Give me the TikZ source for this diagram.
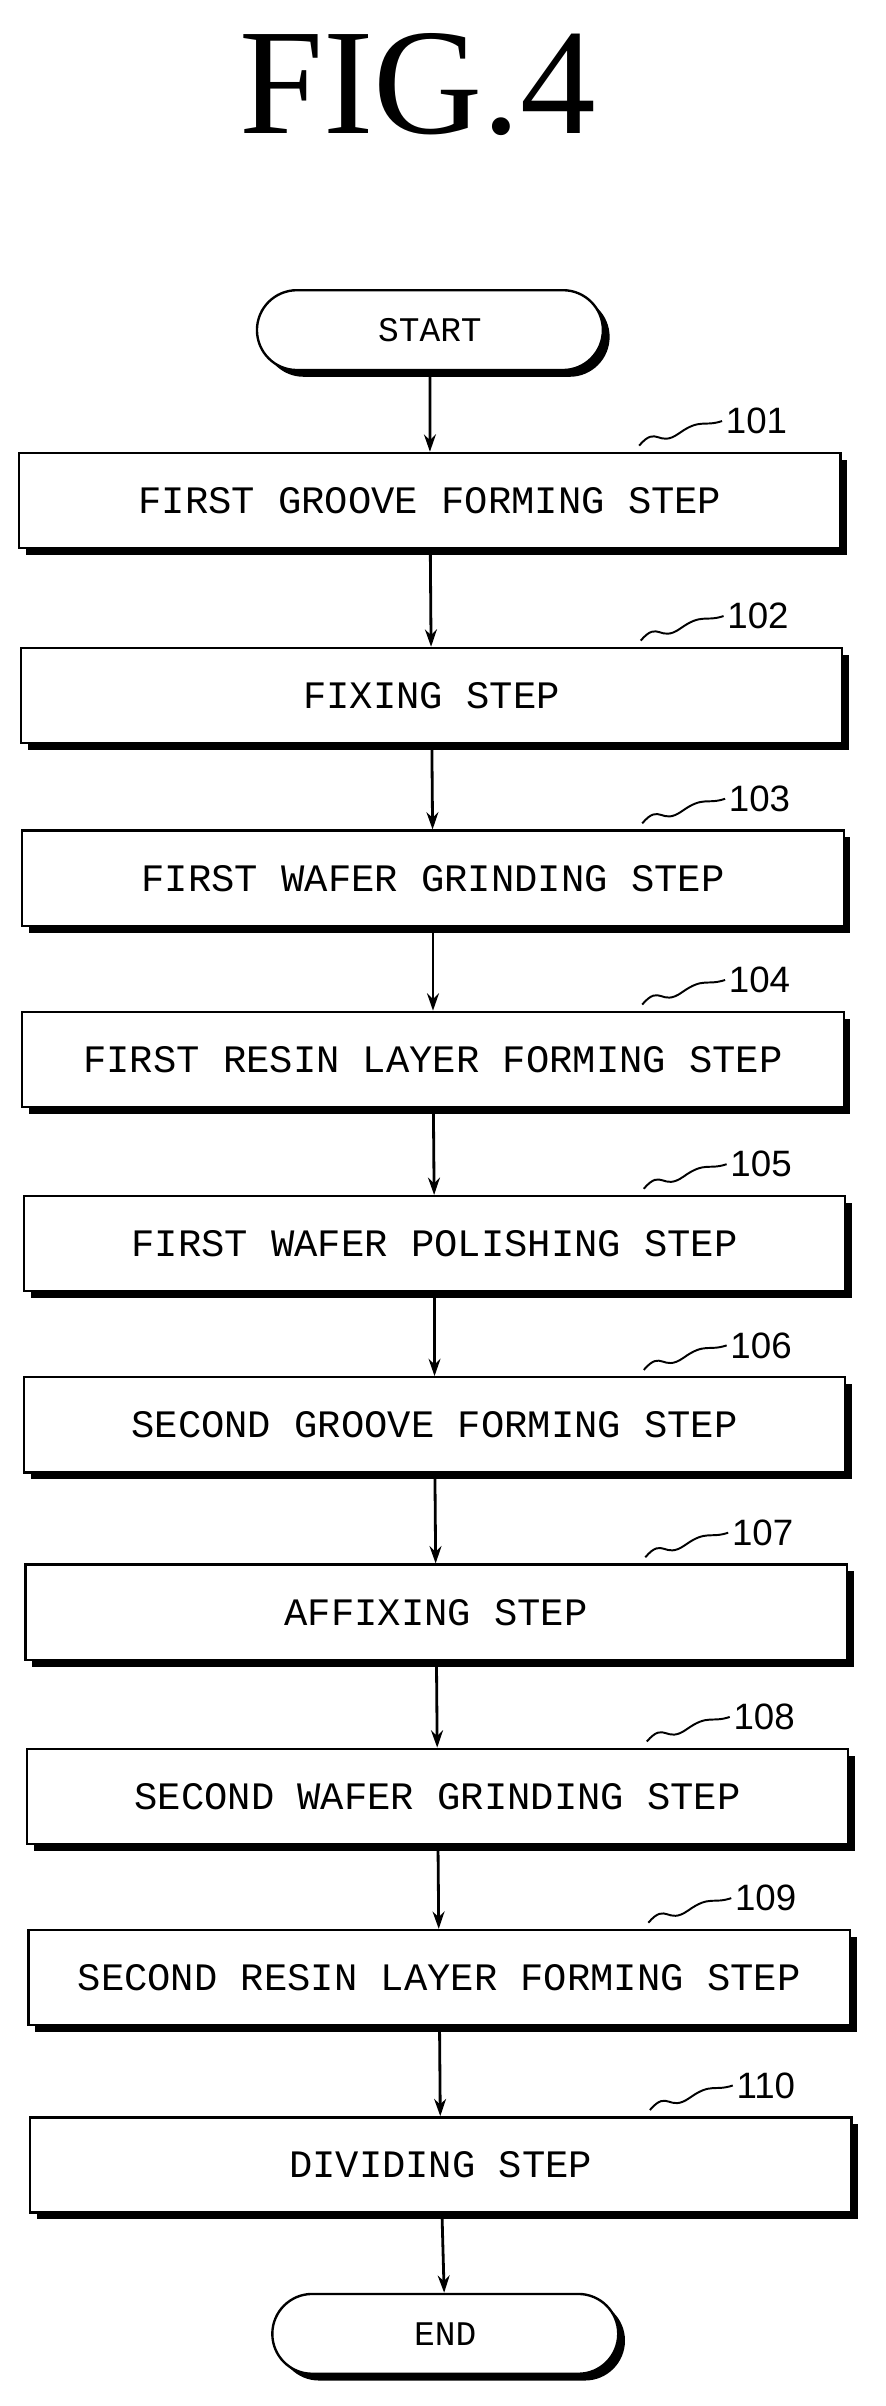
\documentclass[tikz,border=0pt]{standalone}
\usepackage{fontspec}
\setmainfont{Liberation Serif}
\newfontfamily\stepfont{Liberation Mono}
\newfontfamily\tagfont{Liberation Sans}
\usetikzlibrary{positioning,calc,shapes,shadows,arrows.meta}

\begin{document}
\begin{tikzpicture}[
x=0.05cm, y=-0.05cm,
box shadow/.style={drop shadow={shadow xshift=0.22cm, shadow yshift=-0.22cm, fill=black, opacity=1}},
process/.style={rectangle, draw, line width=2.2pt, fill=white, box shadow, minimum width=26.75cm, minimum height=3.1cm, font=\stepfont\fontsize{36}{40}\selectfont},
terminal/.style={rounded rectangle, draw, line width=2.2pt, fill=white, box shadow, minimum width=11.5cm, minimum height=2.6cm, font=\stepfont\fontsize{32}{36}\selectfont},
flow/.style={-{Stealth[length=16pt,width=11pt]}, line width=2.6pt},
tag/.style={font=\tagfont\fontsize{34}{38}\selectfont}
]
	\useasboundingbox (0,0) rectangle (577,1567);
	\node at (272,55) (title) {\fontsize{140}{140}\selectfont FIG.4};

	\node at (280,215) [terminal] (start) {START};
	\node at (280,326) [process] (s1) {FIRST GROOVE FORMING STEP};
	\node at (281,453) [process] (s2) {FIXING STEP};
	\node at (282,572) [process] (s3) {FIRST WAFER GRINDING STEP};
	\node at (282,690) [process] (s4) {FIRST RESIN LAYER FORMING STEP};
	\node at (283,810) [process] (s5) {FIRST WAFER POLISHING STEP};
	\node at (283,928) [process] (s6) {SECOND GROOVE FORMING STEP};
	\node at (284,1050) [process] (s7) {AFFIXING STEP};
	\node at (285,1170) [process] (s8) {SECOND WAFER GRINDING STEP};
	\node at (286,1288) [process] (s9) {SECOND RESIN LAYER FORMING STEP};
	\node at (287,1410) [process] (s10) {DIVIDING STEP};
	\node at (290,1520) [terminal] (end) {END};

	\draw [flow] (start) -- (s1);
	\foreach \a/\b in {s1/s2,s2/s3,s3/s4,s4/s5,s5/s6,s6/s7,s7/s8,s8/s9,s9/s10,s10/end}
		\draw [flow] (\a) -- (\b);

	% reference numerals
	\foreach \s/\n in {s1/101,s2/102,s3/103,s4/104,s5/105,s6/106,s7/107,s8/108,s9/109,s10/110} {
		\node [tag, anchor=west] at ($(\s.north east)+(-78,-20)$) (n\n) {\n};
		\draw [line width=1.8pt] ($(\s.north east)+(-132,-4)$) .. controls +(12,-14) and +(-14,10) .. ($(\s.north east)+(-106,-12)$) .. controls +(14,-10) and +(-12,4) .. (n\n.west);
	}
\end{tikzpicture}
\end{document}
